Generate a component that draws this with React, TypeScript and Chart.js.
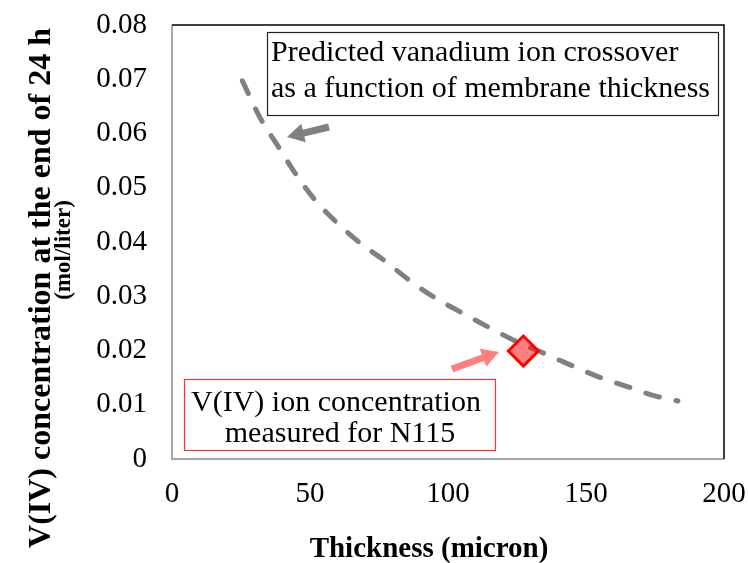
import React, { useEffect, useRef } from 'react';
import { Chart, registerables } from 'chart.js';

Chart.register(...registerables);

// ---- data ----
const thickness = [25.5, 31.9, 38.1, 44.6, 51.9, 59.9, 68.2, 76.6, 86.4, 94.7, 104.5, 114.3, 123.8, 134.7, 144.5, 154.3, 165.2, 175.3, 183.3];
const predicted = [0.0697, 0.0629, 0.0579, 0.0527, 0.0477, 0.0435, 0.0398, 0.0367, 0.0328, 0.0299, 0.0271, 0.0244, 0.0219, 0.0195, 0.0173, 0.0152, 0.0133, 0.0116, 0.0107];
const measuredThickness = [127.3];
const measuredConc = [0.0199];

const xMin = 0;
const xMax = 200;
const xStep = 50;
const yMin = 0;
const yMax = 0.08;
const yStep = 0.01;

const xTitle = 'Thickness (micron)';
const yTitleLines = ['V(IV) concentration at the end of 24 h', '(mol/liter)'];
const noteTop = ['Predicted vanadium ion crossover', 'as a function of membrane thickness'];
const noteBottom = ['V(IV) ion concentration', 'measured for N115'];

const SERIF = "'Times New Roman', 'Liberation Serif', serif";

function drawArrow(ctx: CanvasRenderingContext2D, x1: number, y1: number, x2: number, y2: number, color: string, shaft: number, headLen: number, headW: number) {
  const ang = Math.atan2(y2 - y1, x2 - x1);
  const L = Math.hypot(x2 - x1, y2 - y1);
  ctx.save();
  ctx.translate(x2, y2);
  ctx.rotate(ang);
  ctx.fillStyle = color;
  ctx.beginPath();
  ctx.moveTo(-L, -shaft / 2);
  ctx.lineTo(-headLen, -shaft / 2);
  ctx.lineTo(-headLen, -headW / 2);
  ctx.lineTo(0, 0);
  ctx.lineTo(-headLen, headW / 2);
  ctx.lineTo(-headLen, shaft / 2);
  ctx.lineTo(-L, shaft / 2);
  ctx.closePath();
  ctx.fill();
  ctx.restore();
}

const decorPlugin = {
  id: 'decor',
  beforeDatasetsDraw(chart: any) {
    const ctx: CanvasRenderingContext2D = chart.ctx;
    const { left, top, right, bottom } = chart.chartArea;
    ctx.save();
    ctx.lineWidth = 2;
    ctx.strokeStyle = '#a6a6a6';
    ctx.beginPath();
    ctx.moveTo(left, top);
    ctx.lineTo(left, bottom);
    ctx.lineTo(right, bottom);
    ctx.stroke();
    ctx.lineWidth = 1.5;
    ctx.strokeStyle = '#000000';
    ctx.beginPath();
    ctx.moveTo(left, top);
    ctx.lineTo(right, top);
    ctx.lineTo(right, bottom);
    ctx.stroke();
    ctx.restore();
  },
  afterDraw(chart: any) {
    const ctx: CanvasRenderingContext2D = chart.ctx;
    ctx.save();

    // axis titles
    ctx.fillStyle = '#000';
    ctx.textAlign = 'center';
    ctx.textBaseline = 'middle';
    ctx.font = `bold 29px ${SERIF}`;
    ctx.fillText(xTitle, 429, 550);

    ctx.save();
    ctx.translate(42, 288);
    ctx.rotate(-Math.PI / 2);
    ctx.font = `bold 32px ${SERIF}`;
    ctx.fillText(yTitleLines[0], 0, 0);
    ctx.restore();
    ctx.save();
    ctx.translate(64, 250);
    ctx.rotate(-Math.PI / 2);
    ctx.font = `bold 23px ${SERIF}`;
    ctx.fillText(yTitleLines[1], 0, 0);
    ctx.restore();

    // top note box
    ctx.fillStyle = '#fff';
    ctx.fillRect(267, 32, 451, 83);
    ctx.strokeStyle = '#222';
    ctx.lineWidth = 1.2;
    ctx.strokeRect(267.5, 32.5, 451, 83);
    ctx.fillStyle = '#000';
    ctx.font = `30px ${SERIF}`;
    ctx.textAlign = 'left';
    ctx.fillText(noteTop[0], 271, 53);
    ctx.fillText(noteTop[1], 271, 89);

    // bottom note box
    ctx.fillStyle = '#fff';
    ctx.fillRect(184, 379, 311, 71);
    ctx.strokeStyle = '#ff3333';
    ctx.lineWidth = 1.2;
    ctx.strokeRect(184.5, 379.5, 311, 71);
    ctx.fillStyle = '#000';
    ctx.textAlign = 'center';
    ctx.fillText(noteBottom[0], 336, 403);
    ctx.fillText(noteBottom[1], 340, 434);

    // arrows
    drawArrow(ctx, 329, 127, 287, 137, '#808080', 7, 17, 19);
    drawArrow(ctx, 452, 369, 499, 352, '#ff8080', 7, 17, 19);

    ctx.restore();
  },
};

export default function App() {
  const canvasRef = useRef<HTMLCanvasElement | null>(null);

  useEffect(() => {
    if (!canvasRef.current) return;
    const chart = new Chart(canvasRef.current, {
      type: 'scatter',
      data: {
        datasets: [
          {
            label: 'Measured N115',
            data: measuredThickness.map((x, i) => ({ x, y: measuredConc[i] })),
            pointStyle: 'rectRot',
            pointRadius: 15,
            pointBackgroundColor: 'rgba(255, 0, 0, 0.5)',
            pointBorderColor: '#ff0000',
            pointBorderWidth: 3,
            showLine: false,
            order: 0,
          },
          {
            label: 'Predicted',
            data: thickness.map((x, i) => ({ x, y: predicted[i] })),
            showLine: true,
            borderColor: '#808080',
            borderWidth: 5,
            borderDash: [14, 17],
            borderCapStyle: 'round',
            cubicInterpolationMode: 'monotone',
            pointRadius: 0,
            order: 1,
          },
        ],
      },
      options: {
        animation: false,
        responsive: false,
        maintainAspectRatio: false,
        devicePixelRatio: 1,
        layout: { padding: { top: 25, right: 24, left: 0, bottom: 0 } },
        plugins: {
          legend: { display: false },
          tooltip: { enabled: false },
        },
        scales: {
          x: {
            type: 'linear',
            min: xMin,
            max: xMax,
            grid: { display: false, drawTicks: false },
            border: { display: false },
            ticks: {
              stepSize: xStep,
              padding: 18,
              color: '#000',
              font: { family: SERIF, size: 29 },
              maxRotation: 0,
            },
            afterFit: (s: any) => {
              s.height = 104;
              s.paddingLeft = 0;
              s.paddingRight = 0;
            },
          },
          y: {
            type: 'linear',
            min: yMin,
            max: yMax,
            grid: { display: false, drawTicks: false },
            border: { display: false },
            ticks: {
              stepSize: yStep,
              padding: 25,
              color: '#000',
              font: { family: SERIF, size: 29 },
              callback: (v: any) => {
                const n = Math.round(Number(v) * 100) / 100;
                return n === 0 ? '0' : n.toFixed(2);
              },
            },
            afterFit: (s: any) => {
              s.width = 172;
              s.paddingTop = 0;
              s.paddingBottom = 0;
            },
          },
        },
      },
      plugins: [decorPlugin],
    });
    return () => chart.destroy();
  }, []);

  return (
    <div style={{ position: 'fixed', left: 0, top: 0, width: 748, height: 563, background: '#fff' }}>
      <canvas ref={canvasRef} width={748} height={563} style={{ width: 748, height: 563, display: 'block' }} />
    </div>
  );
}
